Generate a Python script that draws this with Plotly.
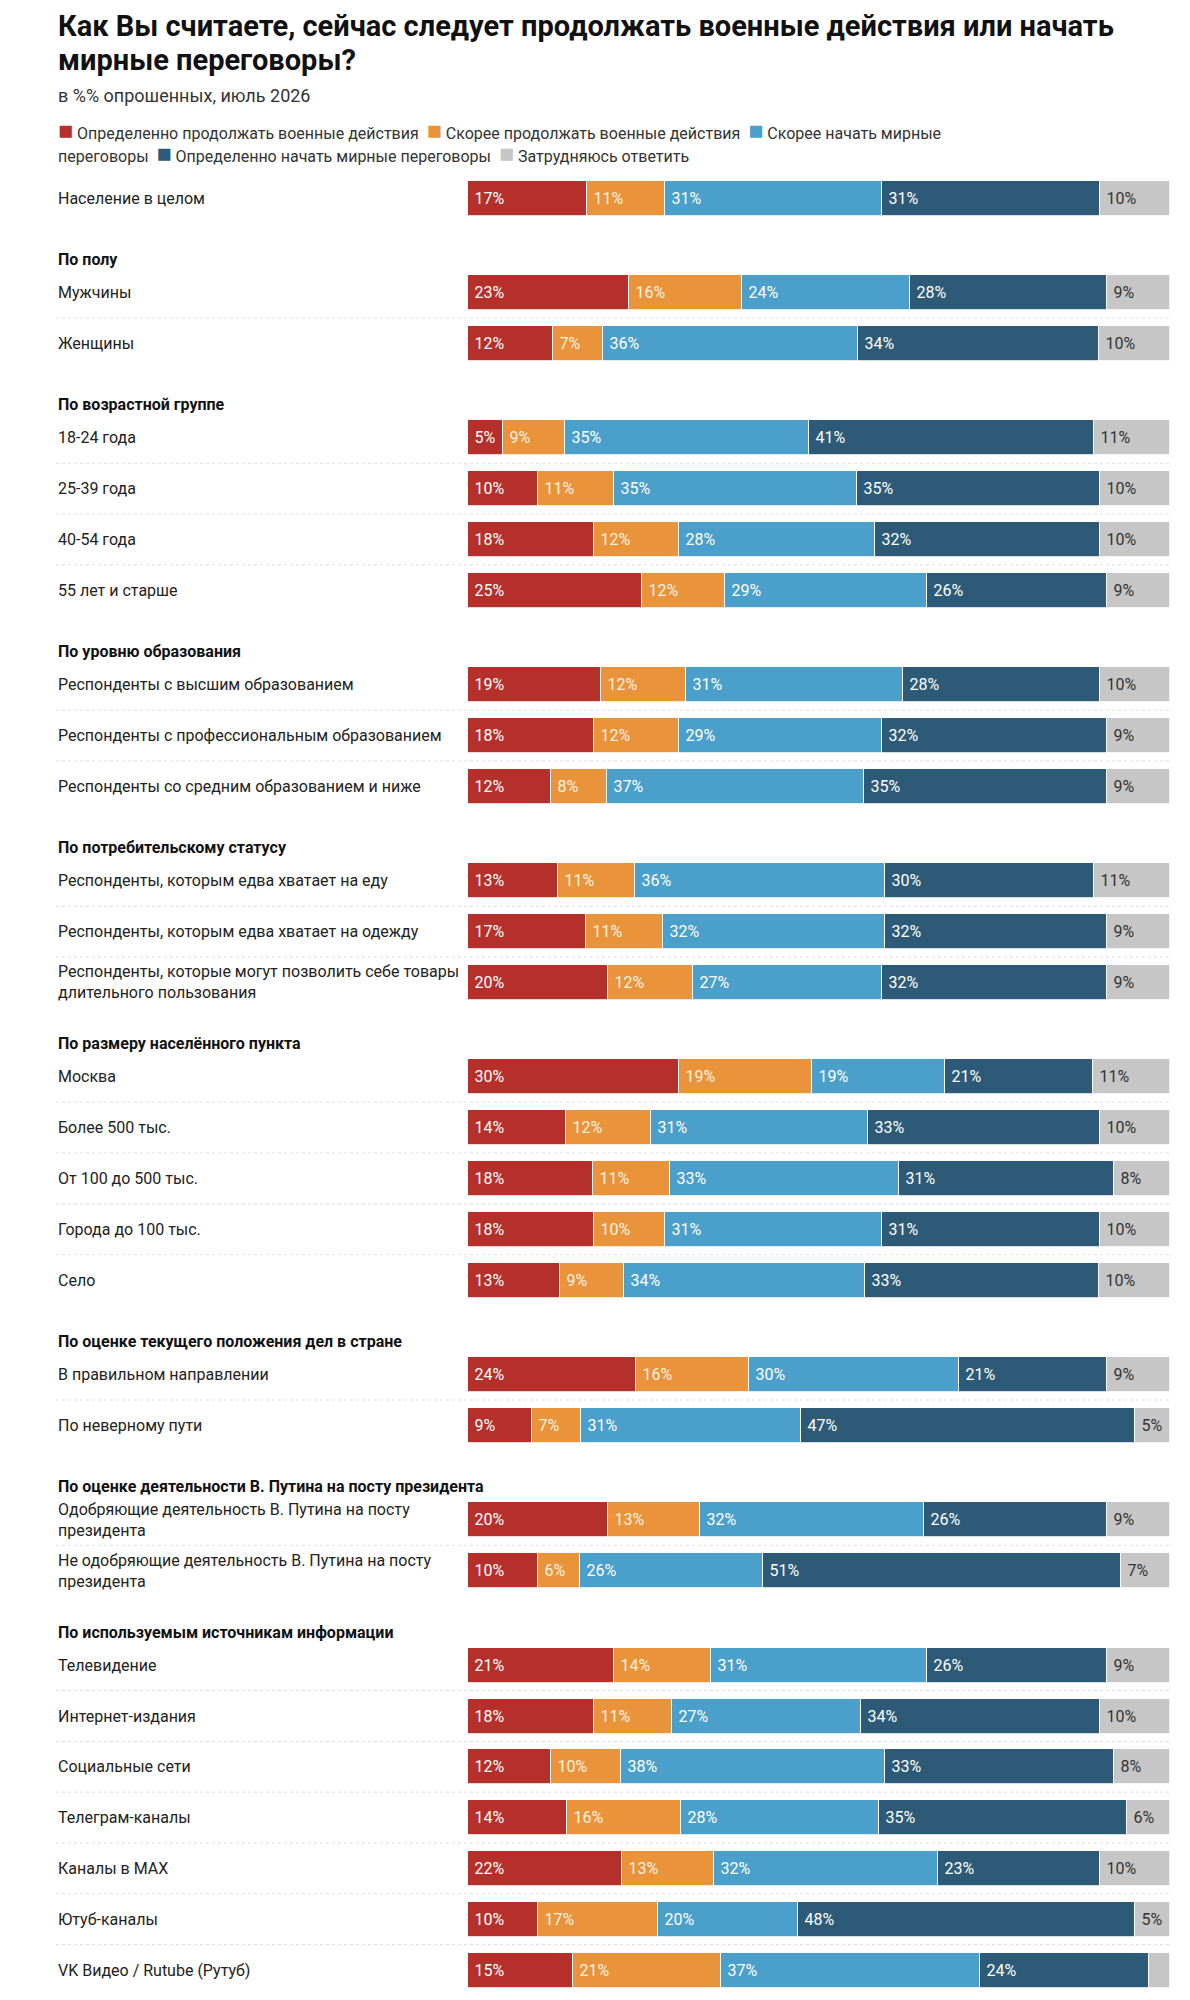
import plotly.graph_objects as go

# ---------------- data ----------------
row_labels = [
    "Население в целом",
    "Мужчины",
    "Женщины",
    "18-24 года",
    "25-39 года",
    "40-54 года",
    "55 лет и старше",
    "Респонденты с высшим образованием",
    "Респонденты с профессиональным образованием",
    "Респонденты со средним образованием и ниже",
    "Респонденты, которым едва хватает на еду",
    "Респонденты, которым едва хватает на одежду",
    "Респонденты, которые могут позволить себе товары<br>длительного пользования",
    "Москва",
    "Более 500 тыс.",
    "От 100 до 500 тыс.",
    "Города до 100 тыс.",
    "Село",
    "В правильном направлении",
    "По неверному пути",
    "Одобряющие деятельность В. Путина на посту<br>президента",
    "Не одобряющие деятельность В. Путина на посту<br>президента",
    "Телевидение",
    "Интернет-издания",
    "Социальные сети",
    "Телеграм-каналы",
    "Каналы в MAX",
    "Ютуб-каналы",
    "VK Видео / Rutube (Рутуб)",
]

group_titles = [
    None,
    "По полу",
    "По возрастной группе",
    "По уровню образования",
    "По потребительскому статусу",
    "По размеру населённого пункта",
    "По оценке текущего положения дел в стране",
    "По оценке деятельности В. Путина на посту президента",
    "По используемым источникам информации",
]
group_sizes = [1, 2, 4, 3, 3, 5, 2, 2, 7]

definitely_continue = [17, 23, 12, 5, 10, 18, 25, 19, 18, 12, 13, 17, 20, 30, 14, 18, 18, 13, 24, 9, 20, 10, 21, 18, 12, 14, 22, 10, 15]
rather_continue = [11, 16, 7, 9, 11, 12, 12, 12, 12, 8, 11, 11, 12, 19, 12, 11, 10, 9, 16, 7, 13, 6, 14, 11, 10, 16, 13, 17, 21]
rather_negotiate = [31, 24, 36, 35, 35, 28, 29, 31, 29, 37, 36, 32, 27, 19, 31, 33, 31, 34, 30, 31, 32, 26, 31, 27, 38, 28, 32, 20, 37]
definitely_negotiate = [31, 28, 34, 41, 35, 32, 26, 28, 32, 35, 30, 32, 32, 21, 33, 31, 31, 33, 21, 47, 26, 51, 26, 34, 33, 35, 23, 48, 24]
hard_to_say = [10, 9, 10, 11, 10, 10, 9, 10, 9, 9, 11, 9, 9, 11, 10, 8, 10, 10, 9, 5, 9, 7, 9, 10, 8, 6, 10, 5, 3]

series_names = [
    "Определенно продолжать военные действия",
    "Скорее продолжать военные действия",
    "Скорее начать мирные переговоры",
    "Определенно начать мирные переговоры",
    "Затрудняюсь ответить",
]
series_values = [definitely_continue, rather_continue, rather_negotiate,
                 definitely_negotiate, hard_to_say]
series_colors = ["#b5302a", "#e9943a", "#4a9fcb", "#2d5b77", "#c6c6c6"]
text_colors = ["#ffffff", "#fdf1e2", "#ffffff", "#ffffff", "#333333"]

FONT = "Roboto"
W, H = 1190, 2000
OFF = 8  # default page margin around the plot div


def px(x):
    # pixel position in the reference -> paper x
    return (x - OFF) / (W - 2 * OFF)


# row / header vertical positions (pixels from top)
row_y, header_y = [], []
y = 198
for gi, size in enumerate(group_sizes):
    if gi > 0:
        y += 61.5
        header_y.append(y)
        y += 33
    for k in range(size):
        if k > 0:
            y += 50.8
        row_y.append(y)

totals = [sum(v) for v in zip(*series_values)]

fig = go.Figure()
for name, vals, col, tcol in zip(series_names, series_values, series_colors, text_colors):
    fig.add_trace(go.Bar(
        y=row_y,
        x=[v / t * 100 for v, t in zip(vals, totals)],
        orientation="h",
        width=35,
        name=name,
        marker=dict(color=col, line=dict(color="white", width=0.8)),
        text=["\u00a0%d%%" % v if v >= 4 else "" for v in vals],
        textposition="inside",
        insidetextanchor="start",
        textangle=0,
        textfont=dict(family=FONT, size=16, color=tcol),
        hoverinfo="skip",
        cliponaxis=False,
    ))

annotations = []
shapes = []

# title, subtitle
annotations.append(dict(text="<b>Как Вы считаете, сейчас следует продолжать военные действия или начать</b>",
                        x=px(56), y=26, font=dict(size=29, color="#111111")))
annotations.append(dict(text="<b>мирные переговоры?</b>",
                        x=px(56), y=60, font=dict(size=29, color="#111111")))
annotations.append(dict(text="в %% опрошенных, июль 2026",
                        x=px(56), y=95, font=dict(size=18, color="#333333")))


# legend drawn as text lines, wrapping like the original
def sw(i, label):
    return "<span style='color:%s;font-size:25px'>■</span> %s" % (series_colors[i], label)


gap = "\u00a0\u00a0"
leg1 = sw(0, series_names[0]) + gap + sw(1, series_names[1]) + gap + sw(2, "Скорее начать мирные")
leg2 = "переговоры" + gap + sw(3, series_names[3]) + gap + sw(4, series_names[4])
annotations.append(dict(text=leg1, x=px(56), y=130, font=dict(size=16, color="#333333")))
annotations.append(dict(text=leg2, x=px(56), y=153, font=dict(size=16, color="#333333")))

# row labels
for lab, ry in zip(row_labels, row_y):
    annotations.append(dict(text=lab, x=px(56), y=ry, font=dict(size=16, color="#222222")))

# group headers
for title, hy in zip(group_titles[1:], header_y):
    annotations.append(dict(text="<b>%s</b>" % title, x=px(56), y=hy, font=dict(size=16, color="#111111")))

# dotted separators between rows of the same group
start = 0
for size in group_sizes:
    for k in range(start, start + size - 1):
        mid = (row_y[k] + row_y[k + 1]) / 2
        shapes.append(dict(type="line", xref="paper", yref="y", x0=px(56), x1=px(1170),
                           y0=mid, y1=mid, line=dict(color="#dcdcdc", width=1, dash="dot")))
    start += size

for a in annotations:
    a.update(xref="paper", yref="y", xanchor="left", yanchor="middle", align="left", showarrow=False)

fig.update_layout(
    width=W - 2 * OFF,
    height=H - 2 * OFF,
    margin=dict(l=0, r=0, t=0, b=0),
    paper_bgcolor="white",
    plot_bgcolor="white",
    barmode="stack",
    bargap=0,
    showlegend=False,
    font=dict(family=FONT, color="#222222"),
    uniformtext=dict(minsize=16, mode="show"),
    xaxis=dict(domain=[px(468), px(1170)], range=[0, 100.001], visible=False, fixedrange=True),
    yaxis=dict(domain=[0, 1], range=[H - OFF, OFF], visible=False, fixedrange=True),
    annotations=annotations,
    shapes=shapes,
)

fig.write_html("out.html")
